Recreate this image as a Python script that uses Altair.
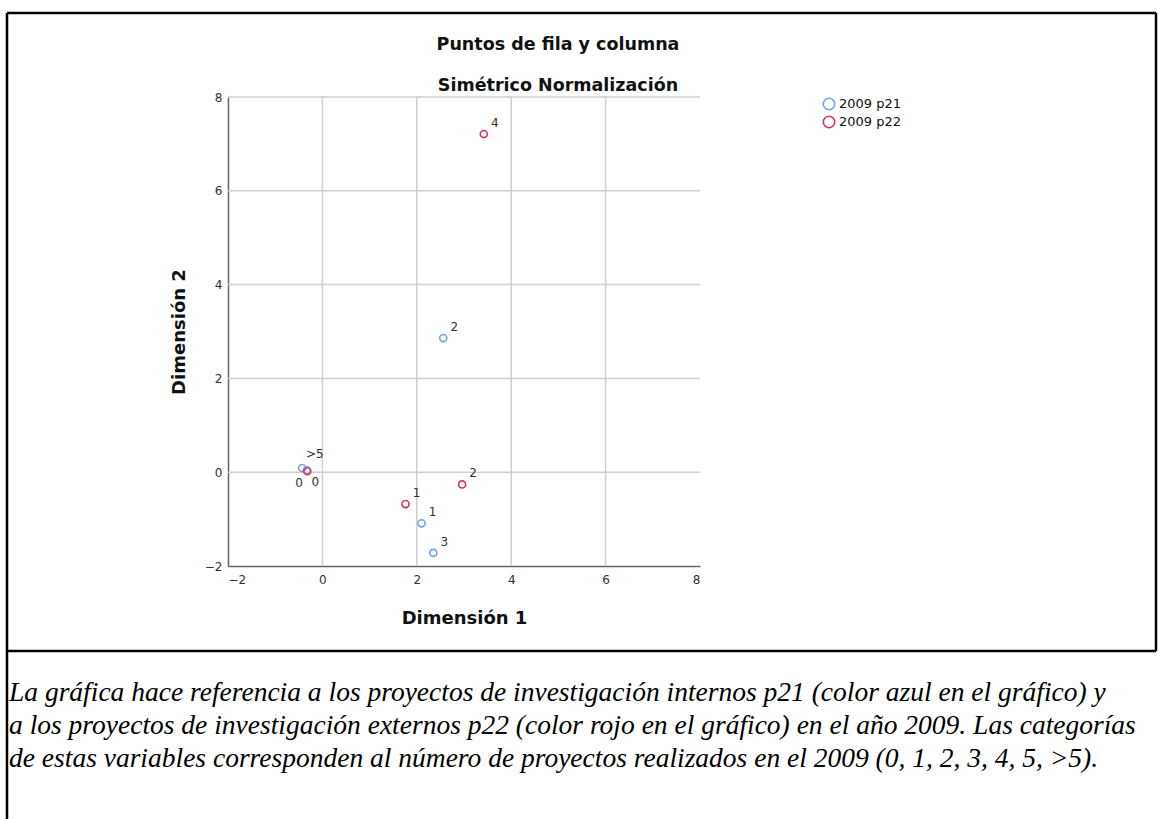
import altair as alt
import pandas as pd

# ---- data ----
p21_cats = ["0", ">5", "1", "2", "3"]
p21_x = [-0.43, -0.33, 2.10, 2.56, 2.35]
p21_y = [0.09, 0.04, -1.09, 2.86, -1.72]
p21_place = ["below_left", "above", "ur", "ur", "ur"]

p22_cats = ["0", "1", "2", "4"]
p22_x = [-0.32, 1.76, 2.96, 3.42]
p22_y = [0.02, -0.68, -0.26, 7.21]
p22_place = ["below_right", "ur", "ur", "ur"]

series_names = ["2009 p21", "2009 p22"]
series_colors = ["#74a2ec", "#d8315b"]

tick_values = [-2, 0, 2, 4, 6, 8]
vgrid_values = [0, 2, 4, 6]
hgrid_values = [0, 2, 4, 6, 8]

title_lines = ["Puntos de fila y columna", "Simétrico Normalización"]
caption_lines = [
    "La gráfica hace referencia a los proyectos de investigación internos p21 (color azul en el gráfico) y",
    "a los proyectos de investigación externos p22 (color rojo en el gráfico) en el año 2009. Las categorías",
    "de estas variables corresponden al número de proyectos realizados en el 2009 (0, 1, 2, 3, 4, 5, >5).",
]

# label placement styles (pixel offsets)
placements = {
    "ur": (11, -11),
    "above": (8, -16),
    "below_left": (-3, 15),
    "below_right": (8, 11),
}

rows = []
for c, x, y, p in zip(p21_cats, p21_x, p21_y, p21_place):
    rows.append({"cat": c, "x": x, "y": y, "place": p, "series": series_names[0]})
for c, x, y, p in zip(p22_cats, p22_x, p22_y, p22_place):
    rows.append({"cat": c, "x": x, "y": y, "place": p, "series": series_names[1]})
df = pd.DataFrame(rows)

W, H = 472, 469
FONT = "DejaVu Sans"

xscale = alt.Scale(domain=[-2, 8], nice=False, zero=False)
yscale = alt.Scale(domain=[-2, 8], nice=False, zero=False)
axis_common = dict(values=tick_values, grid=False, ticks=False, domainColor="#666666",
                   domainWidth=1.5, labelFont=FONT, labelFontSize=12, labelColor="#333333",
                   titleFont=FONT, titleFontSize=18, titleFontWeight="bold", titleColor="#111111")
xaxis = alt.Axis(title="Dimensión 1", labelPadding=8, titlePadding=24, **axis_common)
yaxis = alt.Axis(title="Dimensión 2", labelPadding=6, titlePadding=16, **axis_common)

X = lambda: alt.X("x:Q", scale=xscale, axis=xaxis)
Y = lambda: alt.Y("y:Q", scale=yscale, axis=yaxis)

vgrid = alt.Chart(pd.DataFrame({"x": vgrid_values})).mark_rule(
    color="#cfcfcf", strokeWidth=1.5).encode(x=X(), y=alt.value(0), y2=alt.value(H))
hgrid = alt.Chart(pd.DataFrame({"y": hgrid_values})).mark_rule(
    color="#cfcfcf", strokeWidth=1.5).encode(y=Y(), x=alt.value(0), x2=alt.value(W))

points = alt.Chart(df).mark_point(filled=False, shape="circle", size=50, strokeWidth=1.6, opacity=1).encode(
    x=X(), y=Y(),
    color=alt.Color("series:N", scale=alt.Scale(domain=series_names, range=series_colors),
                    legend=alt.Legend(title=None, orient="none", legendX=594, legendY=0,
                                      symbolSize=130, symbolStrokeWidth=1.6, labelFont=FONT,
                                      labelFontSize=13, labelColor="#111111", rowPadding=0,
                                      labelOffset=3, symbolType="circle")),
)

label_layers = []
for key, (dx, dy) in placements.items():
    label_layers.append(
        alt.Chart(df).transform_filter(alt.datum.place == key).mark_text(
            dx=dx, dy=dy, align="center", baseline="middle", font=FONT, fontSize=12, color="#333333"
        ).encode(x=X(), y=Y(), text="cat:N")
    )

one = pd.DataFrame({"a": [0]})
BK = "#000000"
def rule(x1, y1, x2=None, y2=None):
    enc = dict(x=alt.value(x1), y=alt.value(y1))
    if x2 is not None:
        enc["x2"] = alt.value(x2)
    if y2 is not None:
        enc["y2"] = alt.value(y2)
    return alt.Chart(one).mark_rule(color=BK, strokeWidth=2.5).encode(**enc)

L, T, R = 7 - 228, 13 - 97, 1156 - 228
DIV = 651 - 97
BOTTOM = 819 - 97
borders = [
    rule(L, T, x2=R),
    rule(L, T, y2=BOTTOM),
    rule(R, T, y2=DIV),
    rule(L, DIV, x2=R),
]

titles = [
    alt.Chart(one).mark_text(text=t, align="center", baseline="middle", font=FONT,
                             fontSize=17.5, fontWeight="bold", color="#111111")
    .encode(x=alt.value(558 - 228), y=alt.value(yy - 97))
    for t, yy in zip(title_lines, [45, 86])
]

caption = alt.Chart(one).mark_text(
    text=caption_lines, align="left", baseline="middle", font="Liberation Serif",
    fontStyle="italic", fontSize=27.5, lineHeight=33, color="#000000"
).encode(x=alt.value(9 - 228), y=alt.value(693 - 97))

chart = alt.layer(vgrid, hgrid, points, *label_layers, *borders, *titles, caption).properties(
    width=W, height=H,
    autosize=alt.AutoSizeParams(type="none"),
    padding={"left": 228, "top": 97, "right": 458, "bottom": 253},
    background="white",
).configure_view(stroke=None)

chart.save("out.html", embed_options={"renderer": "svg", "actions": False})
